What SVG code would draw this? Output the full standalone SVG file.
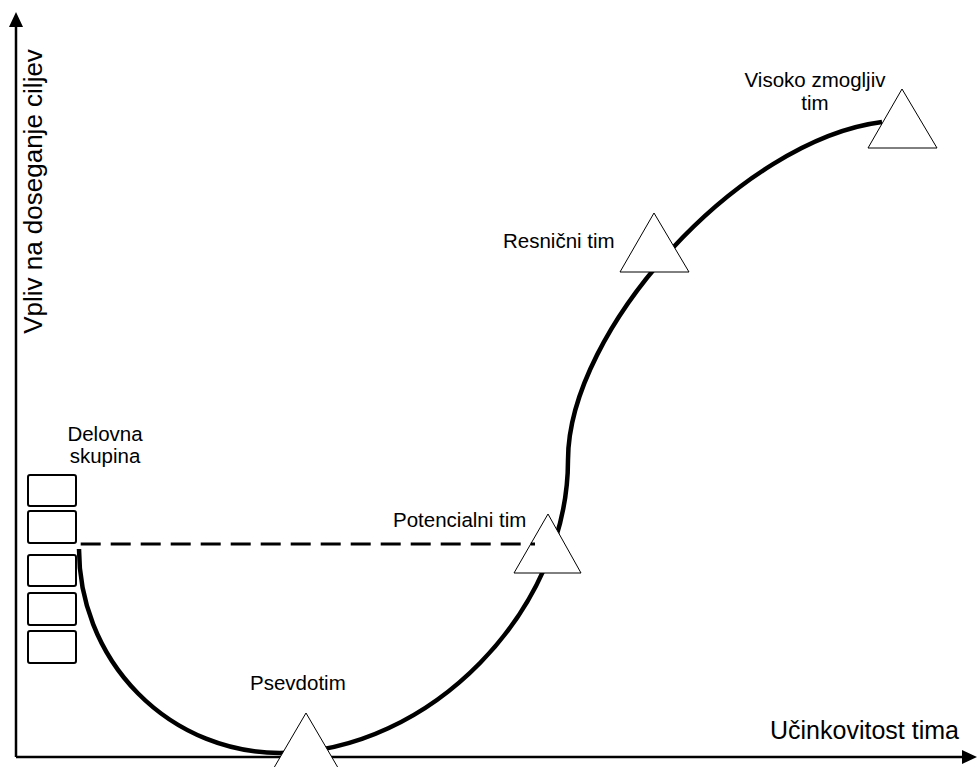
<svg xmlns="http://www.w3.org/2000/svg" width="978" height="767" viewBox="0 0 978 767">
  <style>
    text { font-family: "Liberation Sans", Arial, sans-serif; fill: #000; }
    .lbl { font-size: 20.5px; }
    .axis-lbl { font-size: 25px; }
    .axis { stroke: #000; stroke-width: 2.5; fill: none; }
    .curve { stroke: #000; stroke-width: 4.5; fill: none; stroke-linecap: butt; }
    .dash { stroke: #000; stroke-width: 3; fill: none; stroke-dasharray: 20 10; }
    .tri { fill: #fff; stroke: #000; stroke-width: 1; }
    .box { fill: #fff; stroke: #000; stroke-width: 2; }
  </style>

  <!-- axes -->
  <g id="axes">
    <path class="axis" d="M16,757 V24 M16,757 H964"/>
    <polygon points="16,12 9,27 23,27" fill="#000"/>
    <polygon points="977,757 962,750 962,764" fill="#000"/>
    <text class="axis-lbl" x="770" y="739">Učinkovitost tima</text>
    <text class="axis-lbl" style="font-size:26px" text-anchor="middle" transform="translate(42,191.5) rotate(-90)">Vpliv na doseganje ciljev</text>
  </g>

  <!-- development curve -->
  <g id="connectors">
    <path class="curve" d="M79,549 A201,204 0 0 0 280,753 C430,753 568,610 568,460 C568,330 740,140 882,122"/>
  </g>

  <!-- stages -->
  <g id="node-delovna">
    <rect class="box" x="28" y="475" width="48" height="31" rx="2"/>
    <rect class="box" x="28" y="511" width="48" height="32" rx="2"/>
    <rect class="box" x="28" y="555" width="48" height="31" rx="2"/>
    <rect class="box" x="28" y="593" width="48" height="32" rx="2"/>
    <rect class="box" x="28" y="631" width="48" height="32" rx="2"/>
    <text class="lbl" x="105" y="441" text-anchor="middle">Delovna</text>
    <text class="lbl" x="105" y="463" text-anchor="middle">skupina</text>
  </g>

  <g id="node-psevdotim">
    <polygon class="tri" points="306,713 271.5,772 340.5,772"/>
    <text class="lbl" x="250" y="690">Psevdotim</text>
  </g>

  <g id="node-potencialni">
    <polygon class="tri" points="548,514 514,573 581,573"/>
    <text class="lbl" x="393" y="527">Potencialni tim</text>
  </g>

  <g id="node-resnicni">
    <polygon class="tri" points="654,213 620,272 689,272"/>
    <text class="lbl" x="503" y="248">Resnični tim</text>
  </g>

  <g id="node-visoko">
    <polygon class="tri" points="902,89 868,148 937,148"/>
    <text class="lbl" x="815" y="87" text-anchor="middle">Visoko zmogljiv</text>
    <text class="lbl" x="815" y="110" text-anchor="middle">tim</text>
  </g>

  <!-- reference level of the working group -->
  <g id="guides">
    <path class="dash" d="M80.7,544 H535"/>
  </g>
</svg>
